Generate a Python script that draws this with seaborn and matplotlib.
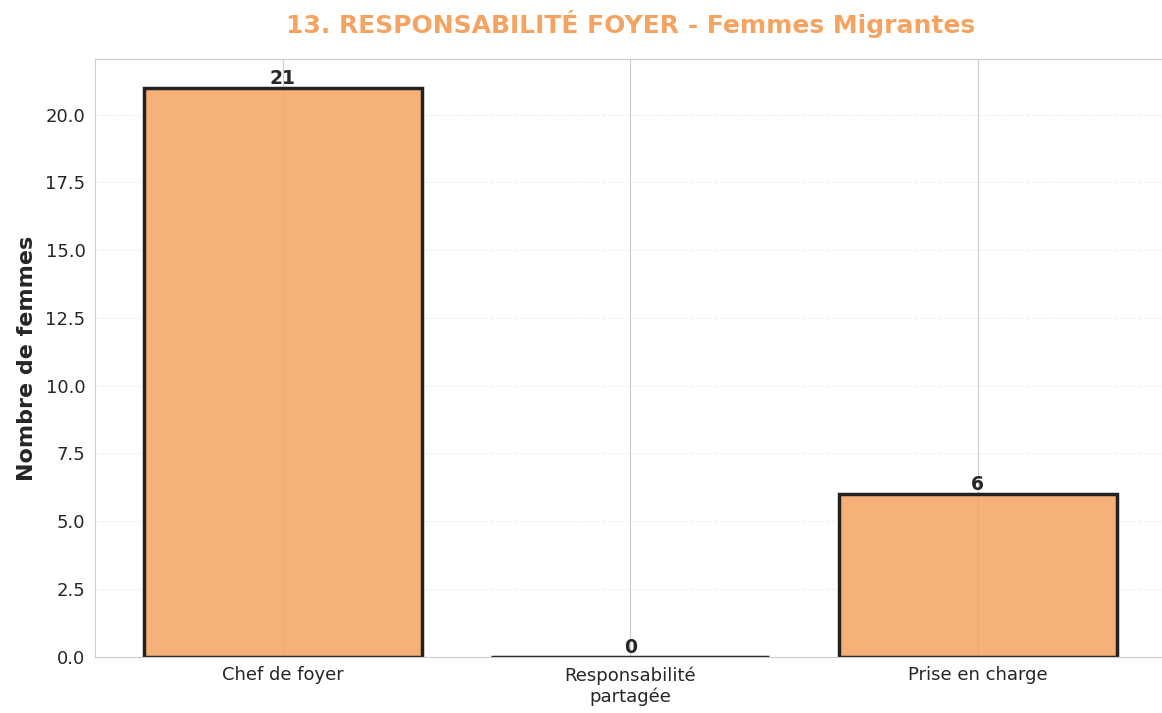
import matplotlib
matplotlib.use('Agg')
import matplotlib.pyplot as plt
import matplotlib.colors as mcolors
import seaborn as sns
import pandas as pd

categories = ['Chef de foyer', 'Responsabilité\npartagée', 'Prise en charge']
counts = [21, 0, 6]

sns.set_style("whitegrid")

df = pd.DataFrame({'cat': categories, 'n': counts})

fig, ax = plt.subplots(figsize=(11.62, 7.13), dpi=100)
fig.subplots_adjust(left=0.082, right=1.003, top=0.917, bottom=0.079)

sns.barplot(data=df, x='cat', y='n', color='#F4A460', saturation=1,
            edgecolor='#222222', linewidth=2.5, width=0.8, ax=ax)
face = mcolors.to_rgba('#F4A460', alpha=0.85)
for p in ax.patches:
    p.set_facecolor(face)

for i, v in enumerate(counts):
    ax.text(i, v, str(v), ha='center', va='bottom', fontsize=13.5, fontweight='bold', color='#262626')

ax.set_xlim(-0.54, 2.54)
ax.set_ylim(0, 22.05)
ax.xaxis.grid(True)
ax.yaxis.grid(True, linestyle='--', alpha=0.3)
ax.set_xlabel('')
ax.set_ylabel('Nombre de femmes', fontsize=16, fontweight='bold', labelpad=6)
ax.set_title('13. RESPONSABILITÉ FOYER - Femmes Migrantes', fontsize=18,
             fontweight='bold', color='#F4A460', pad=19)
ax.tick_params(axis='both', labelsize=13)

plt.savefig('out.png', dpi=100)
